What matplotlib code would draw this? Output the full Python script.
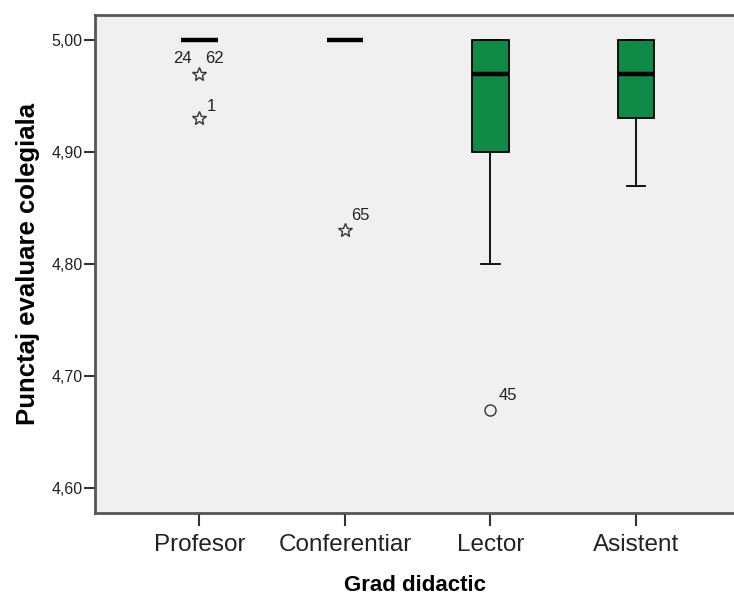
import matplotlib.pyplot as plt

plt.rcParams['font.family'] = ['Liberation Sans', 'DejaVu Sans']

# Grade didactice si statisticile boxplot
categorii = ["Profesor", "Conferentiar", "Lector", "Asistent"]
q1 = [5.00, 5.00, 4.90, 4.93]
mediana = [5.00, 5.00, 4.97, 4.97]
q3 = [5.00, 5.00, 5.00, 5.00]
mustata_jos = [5.00, 5.00, 4.80, 4.87]
mustata_sus = [5.00, 5.00, 5.00, 5.00]
are_cutie = [False, False, True, True]

# Valori extreme (stele) si outlieri (cercuri); grup = index categorie
extreme_grup = [0, 0, 1]
extreme_val = [4.97, 4.93, 4.83]
outlier_grup = [2]
outlier_val = [4.67]

# Etichete (numar caz) pentru punctele aberante
etichete_grup = [0, 0, 0, 1, 2]
etichete_val = [4.97, 4.97, 4.93, 4.83, 4.67]
etichete_text = ["24", "62", "1", "65", "45"]
etichete_dx = [-17, 15, 12, 15, 17]
etichete_dy = [15, 15, 12, 15, 14]

verde = "#108A47"

fig = plt.figure(figsize=(7.34, 5.96), dpi=100)
ax = fig.add_axes([95/734, 1 - 513/596, 1 - 95/734, (513 - 15)/596])
ax.set_facecolor("#F0F0F0")

stats = []
for i in range(len(categorii)):
    stats.append({
        "q1": q1[i], "med": mediana[i], "q3": q3[i],
        "whislo": mustata_jos[i], "whishi": mustata_sus[i],
        "fliers": [], "label": categorii[i],
    })

pozitii = list(range(len(categorii)))
bp = ax.bxp(stats, positions=pozitii, widths=0.25, patch_artist=True,
            showfliers=False,
            boxprops=dict(facecolor=verde, edgecolor="black", linewidth=1.3),
            medianprops=dict(color="black", linewidth=3.2, solid_capstyle="butt"),
            whiskerprops=dict(color="black", linewidth=1.3),
            capprops=dict(color="black", linewidth=1.3),
            capwidths=0.125)

# grupele fara cutie (toate valorile 5,00): doar linia medianei
for i, ok in enumerate(are_cutie):
    if not ok:
        bp["boxes"][i].set_visible(False)
        bp["whiskers"][2*i].set_visible(False)
        bp["whiskers"][2*i + 1].set_visible(False)
        bp["caps"][2*i].set_visible(False)
        bp["caps"][2*i + 1].set_visible(False)

ax.plot(extreme_grup, extreme_val, linestyle="none", marker="*", markersize=10,
        markerfacecolor="none", markeredgecolor="#333333", markeredgewidth=1.0)
ax.plot(outlier_grup, outlier_val, linestyle="none", marker="o", markersize=8,
        markerfacecolor="none", markeredgecolor="#333333", markeredgewidth=1.0)

for g, v, t, dx, dy in zip(etichete_grup, etichete_val, etichete_text, etichete_dx, etichete_dy):
    ax.annotate(t, (g, v), xytext=(dx * 0.72, dy * 0.72), textcoords="offset points",
                ha="center", va="center", fontsize=12, color="#222222")

ax.set_xlim(-0.718, 3.6735)
ax.set_ylim(4.5777, 5.0223)
ax.set_yticks([4.60, 4.70, 4.80, 4.90, 5.00])
ax.set_yticklabels(["4,60", "4,70", "4,80", "4,90", "5,00"], fontsize=11.5, color="#222222")
ax.set_xticks(pozitii)
ax.set_xticklabels(categorii, fontsize=17.5, color="#222222")

ax.tick_params(axis="y", length=8, width=1.5, pad=1, color="#333333")
ax.tick_params(axis="x", length=9, width=1.5, pad=6, color="#333333")

for s in ["left", "bottom", "top"]:
    ax.spines[s].set_color("#555555")
    ax.spines[s].set_linewidth(2)
ax.spines["right"].set_visible(False)

ax.set_xlabel("Grad didactic", fontsize=16, fontweight="bold", labelpad=14)
ax.set_ylabel("Punctaj evaluare colegiala", fontsize=18.5, fontweight="bold", labelpad=8)

fig.savefig("out.png", dpi=100)
